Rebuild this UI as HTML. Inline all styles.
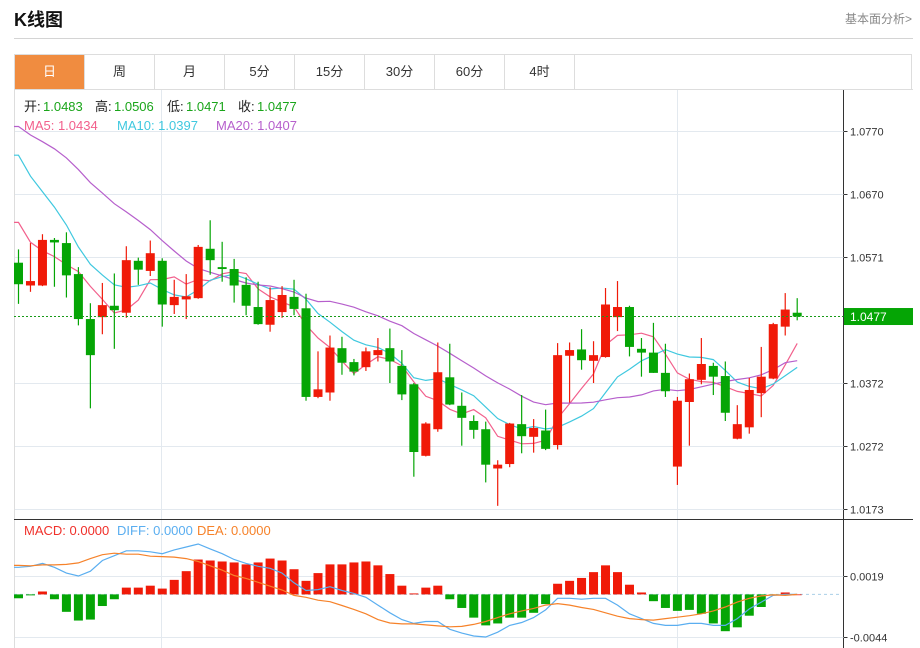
<!DOCTYPE html>
<html><head><meta charset="utf-8">
<style>
body{margin:0;width:920px;height:648px;background:#fff;font-family:"Liberation Sans","Noto Sans CJK SC",sans-serif;overflow:hidden;position:relative}
.title{position:absolute;left:14px;top:6px;font-size:18px;font-weight:bold;color:#111}
.more{position:absolute;right:8px;top:10px;font-size:12px;color:#888}
.hr{position:absolute;left:14px;top:38px;width:899px;height:1px;background:#d4d4d4}
.tabs{position:absolute;left:14px;top:54px;width:898px;height:35px;border:1px solid #ddd;border-bottom:none;box-sizing:border-box}
.tab{position:absolute;top:0;width:70px;height:34px;line-height:34px;text-align:center;font-size:13px;color:#333;border-right:1px solid #ddd;box-sizing:border-box}
.tab.on{background:#f08c40;color:#fff}
svg{position:absolute;left:0;top:0}
</style></head><body>
<div class="title">K线图</div>
<div class="more">基本面分析&gt;</div>
<div class="hr"></div>
<div class="tabs">
<div class="tab on" style="left:0">日</div>
<div class="tab" style="left:70px">周</div>
<div class="tab" style="left:140px">月</div>
<div class="tab" style="left:210px">5分</div>
<div class="tab" style="left:280px">15分</div>
<div class="tab" style="left:350px">30分</div>
<div class="tab" style="left:420px">60分</div>
<div class="tab" style="left:490px">4时</div>
</div>
<svg id="chart" width="920" height="648"></svg>
<script>
const opens=[1.0562,1.0526,1.0526,1.0598,1.0593,1.0544,1.0473,1.0476,1.0494,1.0483,1.0565,1.0549,1.0565,1.0495,1.0504,1.0506,1.0584,1.0555,1.0552,1.0527,1.0492,1.0464,1.0484,1.0508,1.0490,1.0350,1.0357,1.0427,1.0405,1.0397,1.0416,1.0427,1.0399,1.0370,1.0257,1.0299,1.0381,1.0336,1.0312,1.0299,1.0237,1.0244,1.0307,1.0287,1.0297,1.0274,1.0415,1.0425,1.0407,1.0413,1.0476,1.0492,1.0426,1.0420,1.0388,1.0240,1.0342,1.0377,1.0399,1.0383,1.0284,1.0302,1.0356,1.0379,1.0461,1.0483];
const closes=[1.0528,1.0533,1.0598,1.0594,1.0542,1.0473,1.0416,1.0495,1.0487,1.0566,1.0551,1.0577,1.0496,1.0508,1.0509,1.0587,1.0566,1.0552,1.0526,1.0494,1.0465,1.0503,1.0511,1.0489,1.0350,1.0362,1.0428,1.0404,1.0390,1.0422,1.0424,1.0406,1.0354,1.0263,1.0308,1.0389,1.0338,1.0317,1.0298,1.0243,1.0243,1.0308,1.0288,1.0301,1.0268,1.0416,1.0424,1.0408,1.0416,1.0496,1.0492,1.0429,1.0420,1.0388,1.0359,1.0344,1.0378,1.0402,1.0382,1.0325,1.0307,1.0361,1.0382,1.0465,1.0488,1.0477];
const highs=[1.0583,1.0593,1.0607,1.0601,1.0610,1.0555,1.0498,1.0530,1.0545,1.0588,1.0570,1.0597,1.0569,1.0535,1.0544,1.0590,1.0629,1.0595,1.0568,1.0539,1.0532,1.0523,1.0525,1.0535,1.0513,1.0422,1.0447,1.0445,1.0410,1.0428,1.0443,1.0458,1.0424,1.0372,1.0310,1.0436,1.0434,1.0357,1.0321,1.0311,1.0250,1.0309,1.0353,1.0315,1.0330,1.0435,1.0436,1.0457,1.0438,1.0522,1.0533,1.0494,1.0443,1.0467,1.0434,1.0350,1.0387,1.0443,1.0404,1.0406,1.0337,1.0380,1.0429,1.0467,1.0514,1.0506];
const lows=[1.0497,1.0516,1.0525,1.0524,1.0507,1.0463,1.0332,1.0449,1.0426,1.0475,1.0527,1.0541,1.0461,1.0481,1.0473,1.0505,1.0543,1.0532,1.0499,1.0479,1.0464,1.0453,1.0475,1.0479,1.0344,1.0348,1.0344,1.0385,1.0384,1.0391,1.0406,1.0372,1.0345,1.0224,1.0256,1.0295,1.0337,1.0273,1.0284,1.0215,1.0178,1.0239,1.0261,1.0262,1.0266,1.0267,1.0341,1.0393,1.0372,1.0412,1.0454,1.0414,1.0382,1.0388,1.0350,1.0211,1.0273,1.0370,1.0353,1.0312,1.0283,1.0292,1.0318,1.0378,1.0447,1.0471];
const priorCloses=[1.0800,1.0810,1.0820,1.0830,1.0840,1.0830,1.0825,1.0820,1.0825,1.0824,1.0865,1.0845,1.0835,1.0825,1.0820,1.0690,1.0665,1.0640,1.0605];
const priceTicks=[1.0770,1.0670,1.0571,1.0372,1.0272,1.0173];
const macdHist=[-0.0004,-0.0001,0.0003,-0.0005,-0.0018,-0.0027,-0.0026,-0.0012,-0.0005,0.0007,0.0007,0.0009,0.0006,0.0015,0.0024,0.0036,0.0035,0.0034,0.0033,0.0031,0.0033,0.0037,0.0035,0.0026,0.0014,0.0022,0.0031,0.0031,0.0033,0.0034,0.0030,0.0021,0.0009,0.0001,0.0007,0.0009,-0.0005,-0.0014,-0.0024,-0.0032,-0.0030,-0.0024,-0.0024,-0.0019,-0.0010,0.0011,0.0014,0.0017,0.0023,0.0030,0.0023,0.0010,0.0002,-0.0007,-0.0014,-0.0017,-0.0016,-0.0020,-0.0030,-0.0038,-0.0034,-0.0022,-0.0013,-0.0001,0.0002,0.0000];
const diffVals=[0.0028,0.0029,0.0032,0.0028,0.0022,0.0019,0.0024,0.0035,0.0040,0.0045,0.0045,0.0044,0.0042,0.0046,0.0049,0.0052,0.0047,0.0042,0.0036,0.0032,0.0029,0.0027,0.0022,0.0012,0.0004,0.0005,0.0008,0.0004,0.0001,-0.0003,-0.0011,-0.0019,-0.0026,-0.0030,-0.0028,-0.0028,-0.0036,-0.0040,-0.0043,-0.0044,-0.0039,-0.0032,-0.0029,-0.0024,-0.0016,-0.0004,-0.0004,-0.0005,-0.0004,-0.0004,-0.0011,-0.0020,-0.0025,-0.0030,-0.0032,-0.0032,-0.0030,-0.0030,-0.0032,-0.0032,-0.0025,-0.0015,-0.0008,-0.0001,0.0000,0.0000];
const macdTicks=[0.0019,-0.0044];

const svg=document.getElementById('chart');
const NS='http://www.w3.org/2000/svg';
function mk(tag,attrs,parent){const e=document.createElementNS(NS,tag);for(const k in attrs)e.setAttribute(k,attrs[k]);(parent||svg).appendChild(e);return e;}
const xAt=i=>18.5+i*11.98;
const yP=p=>131+(1.0770-p)*6331.7;
const yM=v=>594.4-v*9683;
const RED='#f01a08',GREEN='#05a505';
const AX=843.5;

let e;
e=mk('path',{d:'M14.5,648 V89.5 H913',fill:'none',stroke:'#ddd'});

[161.5,677.5].forEach(x=>{e=mk('line',{x1:x,y1:90,x2:x,y2:648,stroke:'#e3e9ef'});});
e=mk('line',{x1:AX,y1:90,x2:AX,y2:648,stroke:'#333'});

e=mk('line',{x1:14,y1:519.5,x2:913,y2:519.5,stroke:'#333'});


priceTicks.forEach(p=>{const y=Math.round(yP(p))+0.5;
 e=mk('line',{x1:15,y1:y,x2:AX,y2:y,stroke:'#e3e9ef'});
 
 e=mk('line',{x1:AX,y1:y,x2:AX+4,y2:y,stroke:'#333'});
 
 e=mk('text',{x:850,y:y+4,'font-size':11,fill:'#333'});e.textContent=p.toFixed(4);
 });

const allC=priorCloses.concat(closes);
function ma(n){return closes.map((c,i)=>{const j=i+priorCloses.length;let s=0;for(let k=j-n+1;k<=j;k++)s+=allC[k];return s/n;});}
[[5,'#f2608c','ma5-line'],[10,'#3fc8df','ma10-line'],[20,'#b65fcc','ma20-line']].forEach(([n,c,nm])=>{
 const v=ma(n);const pts=v.map((p,i)=>xAt(i).toFixed(1)+','+yP(p).toFixed(1)).join(' ');
 e=mk('polyline',{points:'14,'+yP(v[0]).toFixed(1)+' '+pts,fill:'none',stroke:c,'stroke-width':1.2});
 });

closes.forEach((c,i)=>{const o=opens[i];const col=c>=o?RED:GREEN;const x=xAt(i);
 const g=mk('g',{});
 mk('line',{x1:x,y1:yP(highs[i]),x2:x,y2:yP(lows[i]),stroke:col,'stroke-width':1.2},g);
 const t=yP(Math.max(o,c)),b=yP(Math.min(o,c));
 mk('rect',{x:x-4.5,y:t,width:9,height:Math.max(1.5,b-t),fill:col},g);});

const last=closes[closes.length-1];const yl=yP(last);
e=mk('line',{x1:14,y1:yl,x2:AX,y2:yl,stroke:'#189a18','stroke-dasharray':'2,2'});

e=mk('rect',{x:AX+0.5,y:yl-8.5,width:69,height:17,fill:'#05a505'});

e=mk('text',{x:850,y:yl+4.5,'font-size':12,fill:'#fff'});e.textContent=last.toFixed(4);


macdTicks.forEach(v=>{const y=Math.round(yM(v))+0.5;
 e=mk('line',{x1:15,y1:y,x2:AX,y2:y,stroke:'#e3e9ef'});
 e=mk('line',{x1:AX,y1:y,x2:AX+4,y2:y,stroke:'#333'});
 e=mk('text',{x:850,y:y+4,'font-size':11,fill:'#333'});e.textContent=v.toFixed(4);
 });
e=mk('line',{x1:14,y1:yM(0),x2:840,y2:yM(0),stroke:'#a9cfe8','stroke-dasharray':'3,3'});

macdHist.forEach((v,i)=>{const y0=yM(0),y1=yM(v);
 e=mk('rect',{x:xAt(i)-4.5,y:Math.min(y0,y1),width:9,height:Math.max(0.8,Math.abs(y1-y0)),fill:v>=0?RED:GREEN});
 });
const deaVals=diffVals.map((d,i)=>d-macdHist[i]/2);
e=mk('polyline',{points:'14,'+yM(diffVals[0]).toFixed(1)+' '+diffVals.map((v,i)=>xAt(i).toFixed(1)+','+yM(v).toFixed(1)).join(' '),fill:'none',stroke:'#5aaef0','stroke-width':1.2});

e=mk('polyline',{points:'14,'+yM(deaVals[0]).toFixed(1)+' '+deaVals.map((v,i)=>xAt(i).toFixed(1)+','+yM(v).toFixed(1)).join(' '),fill:'none',stroke:'#f6822a','stroke-width':1.2});


function txt(x,y,s,c,nm){const t=mk('text',{x:x,y:y,'font-size':13,fill:c});t.textContent=s;return t;}
txt(24,111,'开:','#222','open-label');txt(43,111,opens[opens.length-1].toFixed(4),'#1aa51a','open-value');
txt(95,111,'高:','#222','high-label');txt(114,111,highs[highs.length-1].toFixed(4),'#1aa51a','high-value');
txt(167,111,'低:','#222','low-label');txt(186,111,lows[lows.length-1].toFixed(4),'#1aa51a','low-value');
txt(238,111,'收:','#222','close-label');txt(257,111,last.toFixed(4),'#1aa51a','close-value');
txt(24,130,'MA5: 1.0434','#f2608c','ma5-legend');
txt(117,130,'MA10: 1.0397','#3fc8df','ma10-legend');
txt(216,130,'MA20: 1.0407','#b65fcc','ma20-legend');
txt(24,535,'MACD: 0.0000','#f0302a','macd-legend');
txt(117,535,'DIFF: 0.0000','#5aaef0','diff-legend');
txt(197,535,'DEA: 0.0000','#f6822a','dea-legend');
</script>
</body></html>
